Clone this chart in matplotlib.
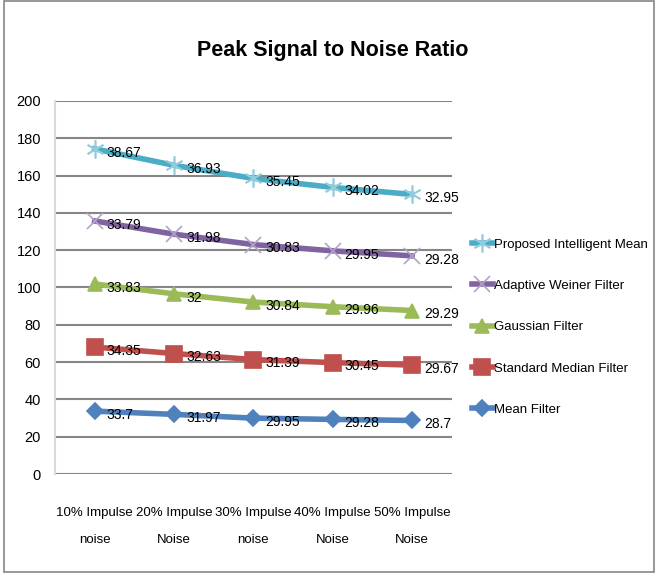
import numpy as np
import matplotlib
matplotlib.use("Agg")
import matplotlib.pyplot as plt
from matplotlib.patches import Rectangle

plt.rcParams['font.family'] = ['Liberation Sans', 'DejaVu Sans']

# ------------------------------------------
# Data (stacked line chart, labels show the raw values)
# ------------------------------------------
categories = ["10% Impulse\nnoise", "20% Impulse\nNoise", "30% Impulse\nnoise",
              "40% Impulse\nNoise", "50% Impulse\nNoise"]

mean_filter = [33.7, 31.97, 29.95, 29.28, 28.7]
median_filter = [34.35, 32.63, 31.39, 30.45, 29.67]
gaussian_filter = [33.83, 32, 30.84, 29.96, 29.29]
adaptive_weiner = [33.79, 31.98, 30.83, 29.95, 29.28]
proposed_mean = [38.67, 36.93, 35.45, 34.02, 32.95]

series_names = ["Mean Filter", "Standard Median Filter", "Gaussian Filter",
                "Adaptive Weiner Filter", "Proposed Intelligent Mean"]
series_values = [mean_filter, median_filter, gaussian_filter, adaptive_weiner, proposed_mean]
line_colors = ["#4F81BD", "#C0504D", "#9BBB59", "#8064A2", "#4BACC6"]
marker_colors = ["#4F81BD", "#C0504D", "#9BBB59", "#B3A2C7", "#93CDDD"]
markers = ["D", "s", "^", "x", (6, 2, 0)]
marker_sizes = [8, 11, 10, 11, 13]

fig = plt.figure(figsize=(6.57, 5.77), dpi=100)
ax = fig.add_axes([0.0837, 0.1785, 0.604, 0.6465])

x = np.arange(len(categories))
cum = np.zeros(len(categories))
handles = []
for name, vals, lc, mc, mk, ms in zip(series_names, series_values, line_colors,
                                      marker_colors, markers, marker_sizes):
    cum = cum + np.array(vals)
    h, = ax.plot(x, cum, color=lc, linewidth=4, marker=mk, markersize=ms,
                 markerfacecolor=mc, markeredgecolor=mc, markeredgewidth=1.2,
                 label=name, zorder=3)
    handles.append(h)
    for xi, yi, v in zip(x, cum, vals):
        ax.text(xi + 0.15, yi - 2, f"{v:g}", fontsize=10, va="center", ha="left",
                color="black", zorder=4)

ax.set_xlim(-0.5, 4.5)
ax.set_ylim(0, 200)
ax.set_yticks(np.arange(0, 201, 20))
ax.set_xticks(x)
ax.set_xticklabels(categories, fontsize=9.5, linespacing=2.6)
ax.tick_params(axis="both", length=0)
ax.tick_params(axis="y", labelsize=10.5, pad=10)
ax.tick_params(axis="x", pad=24)
ax.grid(axis="y", color="#868686", linewidth=1.5)
ax.set_axisbelow(True)
for s in ["top", "right", "bottom"]:
    ax.spines[s].set_visible(False)
ax.spines["left"].set_color("#D9D9D9")
ax.spines["left"].set_linewidth(1.5)

fig.text(0.507, 0.912, "Peak Signal to Noise Ratio", fontsize=15.5, fontweight="bold",
         ha="center", va="center")

leg = fig.legend(handles[::-1], series_names[::-1], loc="center left",
                 bbox_to_anchor=(0.700, 0.433), frameon=False, fontsize=9.5,
                 handlelength=1.6, handletextpad=0.1, labelspacing=2.2)

fig.patches.append(Rectangle((0.006, 0.008), 0.99, 0.99, transform=fig.transFigure,
                             fill=False, edgecolor="#868686", linewidth=1.2))

fig.savefig("out.png", dpi=100)
